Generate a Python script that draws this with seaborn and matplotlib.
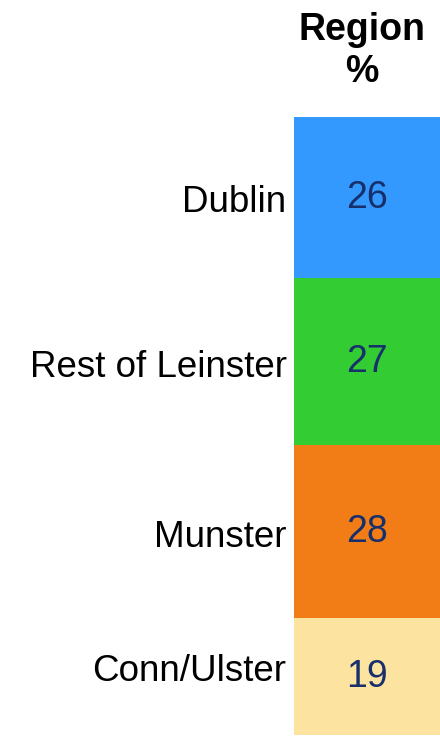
import matplotlib
matplotlib.use("Agg")
import matplotlib.pyplot as plt
import matplotlib.transforms as mtransforms
import seaborn as sns
import numpy as np
import pandas as pd

categories = ["Dublin", "Rest of Leinster", "Munster", "Conn/Ulster"]
values = [26, 27, 28, 19]
colors = ["#3399FF", "#33CC33", "#F27D16", "#FDE3A0"]
title = "Region\n%"

sns.set_theme(style="white")
plt.rcParams['font.family'] = ['Liberation Sans', 'DejaVu Sans']

W, H = 440, 737
fig = plt.figure(figsize=(W / 100, H / 100), dpi=100)
ax = fig.add_axes([294 / W, 2 / H, 1 - 294 / W, (735 - 117) / H])

cum = np.cumsum(values)
starts = cum - np.array(values)
# draw from the bottom-most (largest cumulative) so smaller ones overlap on top
for i in reversed(range(len(values))):
    df = pd.DataFrame({"x": ["r"], "y": [cum[i]]})
    sns.barplot(data=df, x="x", y="y", color=colors[i], width=1.0,
                saturation=1, ax=ax, edgecolor="none", linewidth=0)

ax.set_ylim(cum[-1], 0)
ax.set_xlim(-0.5, 0.5)
ax.axis("off")

trans = mtransforms.blended_transform_factory(ax.transAxes, ax.transData)
label_offsets = [0.8, 1.0, 1.1, -0.8]
for i, (c, v) in enumerate(zip(categories, values)):
    mid = starts[i] + v / 2
    ax.text(0.5, mid + 0.1, str(v), transform=trans, ha="center", va="center",
            fontsize=27, color="#17306B")
    ax.text(-7.5 / 146, mid + label_offsets[i], c, transform=trans, ha="right",
            va="center", fontsize=26.5, color="black")

fig.text(362 / W, 1 - 51 / H, title, ha="center", va="center",
         fontsize=27, fontweight="bold", color="black", linespacing=1.25)

fig.savefig("out.png", dpi=100)
